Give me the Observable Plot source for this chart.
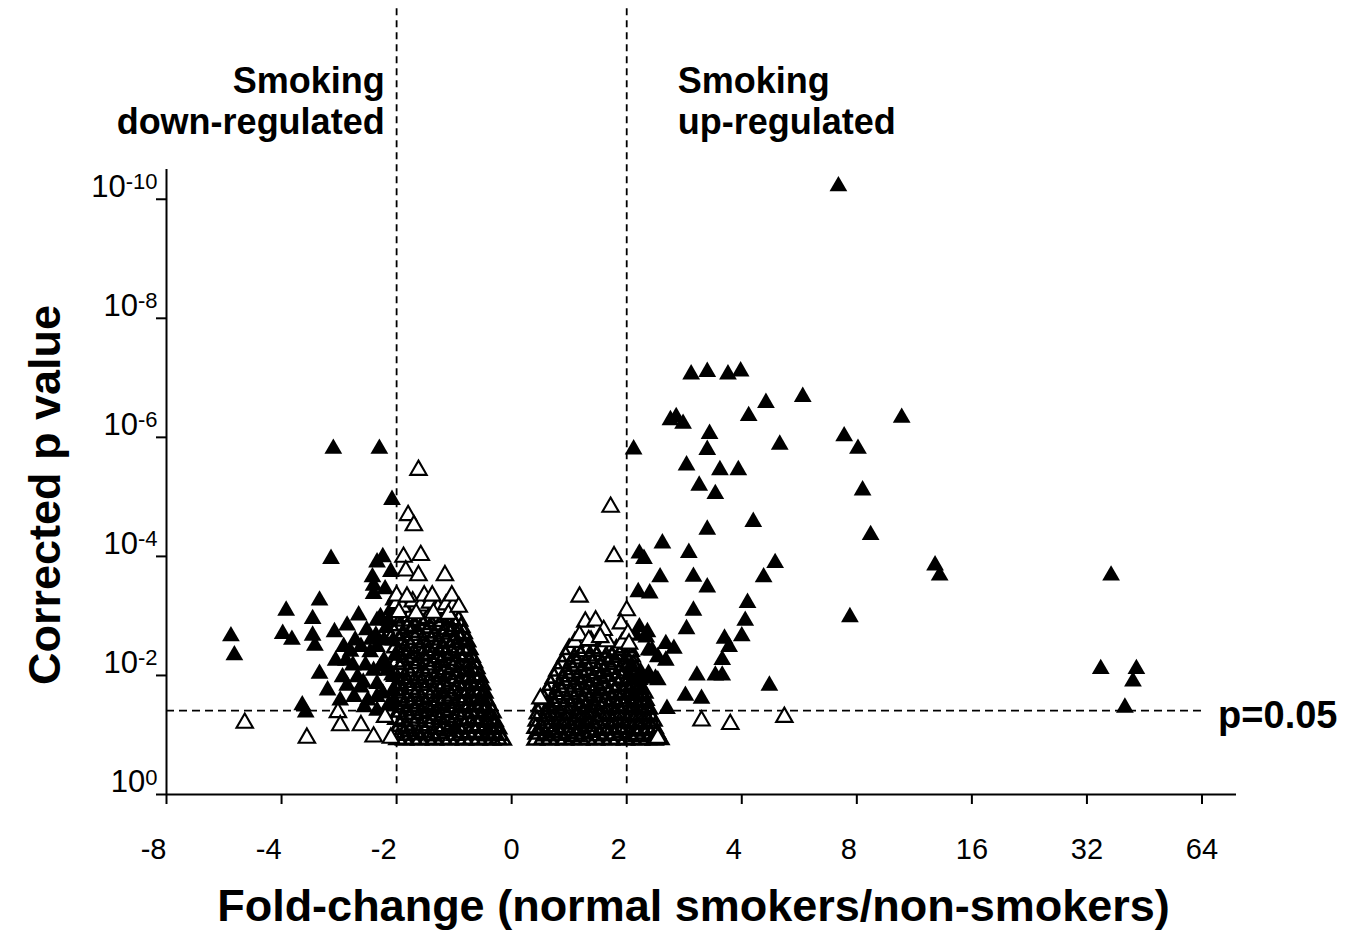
<!DOCTYPE html>
<html><head><meta charset="utf-8">
<script src="https://cdn.jsdelivr.net/npm/d3@7"></script>
<script src="https://cdn.jsdelivr.net/npm/@observablehq/plot@0.6"></script>
<style>html,body{margin:0;padding:0;background:#fff;overflow:hidden}</style>
</head><body><div id="chart"></div>
<script>
// x = signed log2 fold-change, y = -log10(corrected p)
const xTicks = [-3, -2, -1, 0, 1, 2, 3, 4, 5, 6];
const xTickLabels = ["-8", "-4", "-2", "0", "2", "4", "8", "16", "32", "64"];
const yTicks = [0, 2, 4, 6, 8, 10];
const yTickExponents = ["0", "-2", "-4", "-6", "-8", "-10"];
const foldThresholds = [-1, 1];
const pThreshold = 1.41;

const downFilled = [
[-1.55,5.81],[-1.15,5.81],[-1.57,3.96],[-1.04,4.95],[-1.17,3.90],[-1.12,3.99],[-1.21,3.65],[-1.20,3.51],[-1.20,3.37],[-1.05,3.74],
[-1.67,3.26],[-1.96,3.09],[-1.73,2.95],[-2.44,2.66],[-1.99,2.70],[-1.91,2.60],[-1.73,2.67],[-1.71,2.50],[-1.54,2.73],[-1.43,2.84],
[-2.41,2.34],[-1.46,2.48],[-1.44,2.25],[-1.31,2.48],[-1.23,2.39],[-1.17,2.92],[-1.18,2.67],[-1.14,2.98],[-1.07,2.92],[-1.17,2.48],
[-1.67,2.03],[-1.47,1.97],[-1.43,1.83],[-1.34,1.97],[-1.31,1.80],[-1.20,2.08],[-1.17,1.86],[-1.08,2.08],[-1.37,1.64],[-1.25,1.58],
[-1.17,1.64],[-1.82,1.50],[-1.79,1.38],[-1.28,1.47],[-1.17,1.41],[-1.03,3.26],[-1.03,2.59],[-1.01,2.34],[-1.03,1.75],[-1.07,1.50],
[-1.11,2.25],[-1.27,2.17],[-1.38,2.17],[-1.53,2.25],[-1.60,1.75],[-1.49,1.58],[-1.11,2.59],[-1.26,2.76],[-1.36,2.59],[-1.33,3.01],
[-1.10,3.45],[-1.05,3.10],[-1.09,2.80],[-1.04,2.00],[-1.12,1.70],[-1.03,1.55],[-1.22,2.60],[-1.40,2.40],[-1.29,1.88],[-1.14,2.15]
];

const upFilled = [
[2.84,10.22],[1.56,7.06],[1.70,7.10],[1.88,7.06],[1.99,7.11],[2.53,6.68],[2.21,6.58],[2.06,6.36],[1.38,6.29],[1.43,6.34],
[1.49,6.23],[1.06,5.80],[1.72,6.06],[1.70,5.79],[2.33,5.88],[1.52,5.53],[1.81,5.45],[1.97,5.45],[1.63,5.19],[1.77,5.05],
[2.10,4.58],[1.70,4.45],[1.31,4.22],[1.11,4.05],[1.15,3.96],[1.54,4.06],[2.29,3.89],[1.29,3.65],[1.58,3.66],[1.70,3.48],
[2.19,3.65],[1.10,3.40],[1.20,3.38],[2.05,3.22],[1.58,3.09],[2.03,2.92],[1.52,2.78],[2.00,2.66],[1.85,2.62],[1.89,2.48],
[1.08,2.67],[1.17,2.64],[1.22,2.42],[1.34,2.53],[1.41,2.45],[1.34,2.25],[1.83,2.26],[1.61,2.00],[1.77,2.00],[1.83,2.00],
[2.24,1.83],[1.51,1.66],[1.65,1.61],[1.35,1.44],[1.08,1.92],[1.17,1.95],[1.25,1.95],[1.12,1.75],[2.89,6.02],[3.01,5.81],
[3.39,6.33],[3.05,5.11],[3.12,4.36],[3.68,3.85],[3.72,3.68],[2.94,2.98],[5.21,3.68],[5.12,2.11],[5.43,2.11],[5.40,1.90],
[5.33,1.46],[1.11,2.81],[1.18,2.73],[1.19,2.42],[1.27,2.31],[1.12,2.06],[1.19,2.03],[1.27,1.92],[1.03,2.14]
];

// non-significant genes, dense clusters
const notSignificantDense = [
[-1.01,2.97],[-0.94,2.92],[-0.89,2.99],[-0.80,2.93],[-0.73,2.96],[-0.66,2.91],[-0.58,2.98],[-0.52,2.94],[-0.46,2.92],
[-0.99,2.84],[-0.91,2.79],[-0.85,2.83],[-0.77,2.86],[-0.71,2.80],[-0.62,2.85],[-0.56,2.78],[-0.49,2.83],[-0.44,2.81],
[-1.02,2.71],[-0.95,2.67],[-0.87,2.73],[-0.82,2.68],[-0.74,2.72],[-0.67,2.66],[-0.60,2.70],[-0.53,2.74],[-0.47,2.67],[-0.42,2.71],
[-0.97,2.59],[-0.90,2.55],[-0.84,2.61],[-0.76,2.56],[-0.70,2.60],[-0.63,2.54],[-0.57,2.58],[-0.50,2.56],[-0.44,2.61],[-0.39,2.57],
[-1.01,2.47],[-0.93,2.43],[-0.88,2.49],[-0.80,2.45],[-0.72,2.42],[-0.66,2.48],[-0.59,2.44],[-0.54,2.47],[-0.47,2.43],[-0.41,2.46],[-0.37,2.44],
[-0.98,2.35],[-0.92,2.31],[-0.85,2.37],[-0.78,2.33],[-0.73,2.36],[-0.65,2.30],[-0.58,2.34],[-0.52,2.38],[-0.45,2.32],[-0.40,2.35],[-0.35,2.31],
[-1.00,2.23],[-0.95,2.19],[-0.87,2.25],[-0.81,2.20],[-0.74,2.24],[-0.68,2.18],[-0.61,2.22],[-0.55,2.26],[-0.49,2.19],[-0.43,2.23],[-0.37,2.20],[-0.33,2.22],
[-0.97,2.11],[-0.90,2.07],[-0.84,2.13],[-0.77,2.08],[-0.71,2.12],[-0.64,2.06],[-0.57,2.10],[-0.51,2.14],[-0.46,2.07],[-0.39,2.11],[-0.34,2.08],[-0.31,2.12],
[-1.01,1.99],[-0.93,1.95],[-0.88,2.01],[-0.80,1.96],[-0.75,2.00],[-0.67,1.94],[-0.62,1.98],[-0.55,2.02],[-0.48,1.95],[-0.42,1.99],[-0.37,1.96],[-0.32,2.00],[-0.28,1.97],
[-0.98,1.87],[-0.92,1.83],[-0.85,1.89],[-0.79,1.84],[-0.72,1.88],[-0.65,1.82],[-0.59,1.86],[-0.52,1.90],[-0.46,1.83],[-0.40,1.87],[-0.35,1.84],[-0.30,1.88],[-0.26,1.85],
[-1.00,1.75],[-0.95,1.71],[-0.88,1.77],[-0.82,1.72],[-0.75,1.76],[-0.69,1.70],[-0.62,1.74],[-0.56,1.78],[-0.50,1.71],[-0.44,1.75],[-0.38,1.72],[-0.33,1.76],[-0.28,1.73],[-0.24,1.71],
[-0.97,1.63],[-0.91,1.59],[-0.84,1.65],[-0.78,1.60],[-0.71,1.64],[-0.64,1.58],[-0.58,1.62],[-0.53,1.66],[-0.46,1.59],[-0.41,1.63],[-0.35,1.60],[-0.30,1.64],[-0.26,1.61],[-0.22,1.58],
[-1.01,1.51],[-0.94,1.47],[-0.87,1.53],[-0.81,1.48],[-0.74,1.52],[-0.68,1.46],[-0.61,1.50],[-0.55,1.54],[-0.49,1.47],[-0.43,1.51],[-0.37,1.48],[-0.32,1.52],[-0.27,1.49],[-0.23,1.46],[-0.20,1.50],
[-0.98,1.39],[-0.92,1.35],[-0.85,1.41],[-0.79,1.36],[-0.72,1.40],[-0.66,1.34],[-0.59,1.38],[-0.53,1.42],[-0.47,1.35],[-0.40,1.39],[-0.35,1.36],[-0.29,1.40],[-0.24,1.37],[-0.20,1.34],[-0.17,1.38],
[-1.00,1.27],[-0.95,1.23],[-0.88,1.29],[-0.82,1.24],[-0.75,1.28],[-0.69,1.22],[-0.62,1.26],[-0.56,1.30],[-0.50,1.23],[-0.44,1.27],[-0.38,1.24],[-0.33,1.28],[-0.27,1.25],[-0.22,1.22],[-0.18,1.26],[-0.15,1.23],
[-0.97,1.15],[-0.91,1.11],[-0.85,1.17],[-0.78,1.12],[-0.72,1.16],[-0.65,1.10],[-0.59,1.14],[-0.52,1.18],[-0.46,1.11],[-0.41,1.15],[-0.34,1.12],[-0.29,1.16],[-0.24,1.13],[-0.19,1.10],[-0.15,1.14],[-0.12,1.11],
[-1.01,1.04],[-0.94,1.00],[-0.88,1.06],[-0.81,1.01],[-0.75,1.05],[-0.68,0.99],[-0.62,1.03],[-0.55,1.07],[-0.49,1.00],[-0.43,1.04],[-0.37,1.01],[-0.31,1.05],[-0.26,1.02],[-0.21,0.99],[-0.16,1.03],[-0.11,1.00],
[-0.99,0.93],[-0.93,0.92],[-0.86,0.93],[-0.80,0.92],[-0.73,0.93],[-0.67,0.92],[-0.60,0.93],[-0.54,0.92],[-0.47,0.93],[-0.41,0.92],[-0.35,0.93],[-0.29,0.92],[-0.23,0.93],[-0.17,0.92],[-0.12,0.93],[-0.08,0.92],
[0.50,2.44],[0.58,2.40],[0.64,2.46],[0.71,2.41],[0.78,2.45],[0.85,2.39],[0.91,2.43],[0.98,2.47],[1.03,2.41],
[0.47,2.32],[0.54,2.28],[0.60,2.34],[0.67,2.29],[0.74,2.33],[0.81,2.27],[0.87,2.31],[0.94,2.35],[1.00,2.28],[1.04,2.32],
[0.44,2.20],[0.51,2.16],[0.57,2.22],[0.64,2.17],[0.71,2.21],[0.77,2.15],[0.84,2.19],[0.90,2.23],[0.97,2.16],[1.02,2.20],[1.06,2.17],
[0.40,2.08],[0.47,2.04],[0.53,2.10],[0.60,2.05],[0.67,2.09],[0.73,2.03],[0.80,2.07],[0.87,2.11],[0.93,2.04],[0.99,2.08],[1.04,2.05],[1.08,2.09],
[0.37,1.96],[0.44,1.92],[0.50,1.98],[0.57,1.93],[0.63,1.97],[0.70,1.91],[0.77,1.95],[0.83,1.99],[0.90,1.92],[0.96,1.96],[1.02,1.93],[1.07,1.97],[1.10,1.94],
[0.34,1.84],[0.41,1.80],[0.47,1.86],[0.54,1.81],[0.61,1.85],[0.67,1.79],[0.74,1.83],[0.80,1.87],[0.87,1.80],[0.93,1.84],[0.99,1.81],[1.05,1.85],[1.09,1.82],[1.12,1.79],
[0.31,1.72],[0.38,1.68],[0.44,1.74],[0.51,1.69],[0.58,1.73],[0.64,1.67],[0.71,1.71],[0.77,1.75],[0.84,1.68],[0.90,1.72],[0.97,1.69],[1.03,1.73],[1.08,1.70],[1.12,1.67],[1.15,1.71],
[0.28,1.60],[0.35,1.56],[0.41,1.62],[0.48,1.57],[0.55,1.61],[0.61,1.55],[0.68,1.59],[0.75,1.63],[0.81,1.56],[0.88,1.60],[0.94,1.57],[1.01,1.61],[1.07,1.58],[1.12,1.55],[1.16,1.59],
[0.25,1.48],[0.32,1.44],[0.38,1.50],[0.45,1.45],[0.52,1.49],[0.59,1.43],[0.65,1.47],[0.72,1.51],[0.78,1.44],[0.85,1.48],[0.92,1.45],[0.98,1.49],[1.05,1.46],[1.11,1.43],[1.16,1.47],[1.19,1.44],
[0.23,1.36],[0.30,1.32],[0.36,1.38],[0.43,1.33],[0.50,1.37],[0.57,1.31],[0.63,1.35],[0.70,1.39],[0.77,1.32],[0.83,1.36],[0.90,1.33],[0.96,1.37],[1.03,1.34],[1.09,1.31],[1.15,1.35],[1.20,1.32],
[0.22,1.24],[0.28,1.20],[0.35,1.26],[0.42,1.21],[0.48,1.25],[0.55,1.19],[0.62,1.23],[0.68,1.27],[0.75,1.20],[0.82,1.24],[0.88,1.21],[0.95,1.25],[1.01,1.22],[1.08,1.19],[1.14,1.23],[1.19,1.20],[1.23,1.24],
[0.21,1.12],[0.27,1.08],[0.34,1.14],[0.41,1.09],[0.47,1.13],[0.54,1.07],[0.61,1.11],[0.67,1.15],[0.74,1.08],[0.81,1.12],[0.87,1.09],[0.94,1.13],[1.00,1.10],[1.07,1.07],[1.13,1.11],[1.19,1.08],[1.24,1.12],
[0.22,1.02],[0.29,0.99],[0.35,1.04],[0.42,1.00],[0.49,1.03],[0.56,0.98],[0.62,1.02],[0.69,1.05],[0.76,0.99],[0.82,1.02],[0.89,1.00],[0.95,1.04],[1.02,1.01],[1.09,0.98],[1.15,1.02],[1.21,0.99],[1.26,1.03],
[0.21,0.92],[0.27,0.93],[0.33,0.92],[0.40,0.93],[0.46,0.92],[0.53,0.93],[0.60,0.92],[0.66,0.93],[0.73,0.92],[0.79,0.93],[0.86,0.92],[0.92,0.93],[0.99,0.92],[1.05,0.93],[1.12,0.92],[1.18,0.93],[1.24,0.92],[1.29,0.93]
];

// non-significant genes, isolated ones and the upper edge of the clusters
const notSignificantSparse = [
[-1.00,3.21],[-0.95,3.15],[-0.86,3.24],[-0.79,3.17],[-0.71,3.22],[-0.64,3.13],[-0.57,3.19],[-0.51,3.16],
[-0.98,3.06],[-0.83,3.04],[-0.68,3.05],[-0.55,3.03],
[0.55,2.56],[0.69,2.58],[0.83,2.57],[0.96,2.55],
[-0.81,5.45],[-0.90,4.69],[-0.85,4.52],[-0.94,3.99],[-0.79,4.02],[-0.92,3.76],[-0.81,3.68],[-0.58,3.68],[-1.00,3.34],[-0.91,3.32],
[-0.76,3.34],[-0.69,3.34],[-0.52,3.34],[-0.46,3.15],
[-2.32,1.20],[-1.78,0.95],[-1.51,1.38],[-1.49,1.16],[-1.31,1.16],[-1.20,0.97],[-1.10,1.30],[-1.05,0.95],
[0.86,4.83],[0.89,4.00],[0.59,3.32],[1.00,3.09],[0.64,2.90],[0.73,2.92],[0.80,2.76],[0.95,2.87],[0.59,2.67],[0.67,2.59],
[0.77,2.64],[1.01,2.70],[1.02,2.53],
[0.25,1.61],[1.27,0.95],[1.65,1.24],[1.90,1.18],[2.37,1.30]
];

const annotations = [
  {x: -1.104, text: "Smoking\ndown-regulated", anchor: "end"},
  {x: 1.443, text: "Smoking\nup-regulated", anchor: "start"}
];
const xTitle = "Fold-change (normal smokers/non-smokers)";
const yTitle = "Corrected p value";
const pLabel = "p=0.05";

const font = "'Liberation Sans', Arial, Helvetica, sans-serif";
const px = d => d[0], py = d => d[1];

const chart = Plot.plot({
  width: 1363, height: 933,
  marginLeft: 166, marginRight: 127, marginTop: 169, marginBottom: 139,
  style: {fontFamily: font, fontSize: "28px", color: "#000", background: "#fff"},
  x: {domain: [-3, 6.3]},
  y: {domain: [0, 10.5]},
  marks: [
    Plot.ruleX(foldThresholds, {y1: 0.18, y2: 13.2, stroke: "#000", strokeWidth: 1.8, strokeDasharray: "7,5"}),
    Plot.ruleY([pThreshold], {x1: -3, x2: 6.03, stroke: "#000", strokeWidth: 1.8, strokeDasharray: "8,5"}),
    Plot.dot(downFilled, {x: px, y: py, symbol: "triangle", r: 6.6, fill: "#000", stroke: "none"}),
    Plot.dot(upFilled, {x: px, y: py, symbol: "triangle", r: 6.6, fill: "#000", stroke: "none"}),
    Plot.dot(notSignificantDense, {x: px, y: py, symbol: "triangle", r: 6.1, fill: "none", stroke: "#000", strokeWidth: 2.6}),
    Plot.dot(notSignificantSparse, {x: px, y: py, symbol: "triangle", r: 6.1, fill: "#fff", stroke: "#000", strokeWidth: 2.1}),
    Plot.ruleX([-3], {y1: 0, y2: 10.5, stroke: "#000", strokeWidth: 2}),
    Plot.ruleY([0], {x1: -3, x2: 6.3, stroke: "#000", strokeWidth: 2}),
    Plot.axisX({ticks: xTicks, tickFormat: d => xTickLabels[xTicks.indexOf(d)], tickSize: 10, tickPadding: 34, strokeWidth: 2, label: null}),
    Plot.axisY({ticks: yTicks, tickSize: 10, strokeWidth: 2, tickFormat: () => "", label: null}),
    Plot.axisY({ticks: yTicks, tickSize: 0, tickPadding: 9, dy: -12, label: null,
      tickFormat: d => "10^" + yTickExponents[yTicks.indexOf(d)]}),
    Plot.text(annotations.filter(a => a.anchor === "end"), {x: "x", text: "text", frameAnchor: "top", textAnchor: "end", lineAnchor: "top", dy: -106, lineHeight: 1.15, fontSize: 36, fontWeight: "bold"}),
    Plot.text(annotations.filter(a => a.anchor === "start"), {x: "x", text: "text", frameAnchor: "top", textAnchor: "start", lineAnchor: "top", dy: -106, lineHeight: 1.15, fontSize: 36, fontWeight: "bold"}),
    Plot.text([{x: 6.14, y: pThreshold, t: pLabel}], {x: "x", y: "y", text: "t", textAnchor: "start", dy: 5, fontSize: 38, fontWeight: "bold"}),
    Plot.text([xTitle], {frameAnchor: "bottom", textAnchor: "middle", lineAnchor: "middle", dx: -8, dy: 112, fontSize: 45, fontWeight: "bold"}),
    Plot.text([yTitle], {frameAnchor: "left", textAnchor: "middle", lineAnchor: "middle", rotate: -90, dx: -121, dy: 13, fontSize: 45, fontWeight: "bold"})
  ]
});

// x tick labels: one-digit labels end at their tick, as in the original figure
chart.querySelectorAll('g[aria-label="x-axis tick label"] text').forEach(t => {
  t.setAttribute("font-size", "29");
  const s = t.textContent || "";
  if (/^-?[1-9]$/.test(s)) t.setAttribute("text-anchor", "end");
});

// render exponents of y tick labels as superscripts
chart.querySelectorAll('g[aria-label="y-axis tick label"] text').forEach(t => {
  const m = (t.textContent || "").match(/^10\^(.+)$/);
  if (!m) return;
  t.textContent = "10";
  t.setAttribute("font-size", "31");
  const ts = document.createElementNS("http://www.w3.org/2000/svg", "tspan");
  ts.setAttribute("dy", "-0.36em");
  ts.setAttribute("font-size", "22");
  ts.textContent = m[1];
  t.appendChild(ts);
});

document.getElementById("chart").appendChild(chart);
</script>
</body></html>
